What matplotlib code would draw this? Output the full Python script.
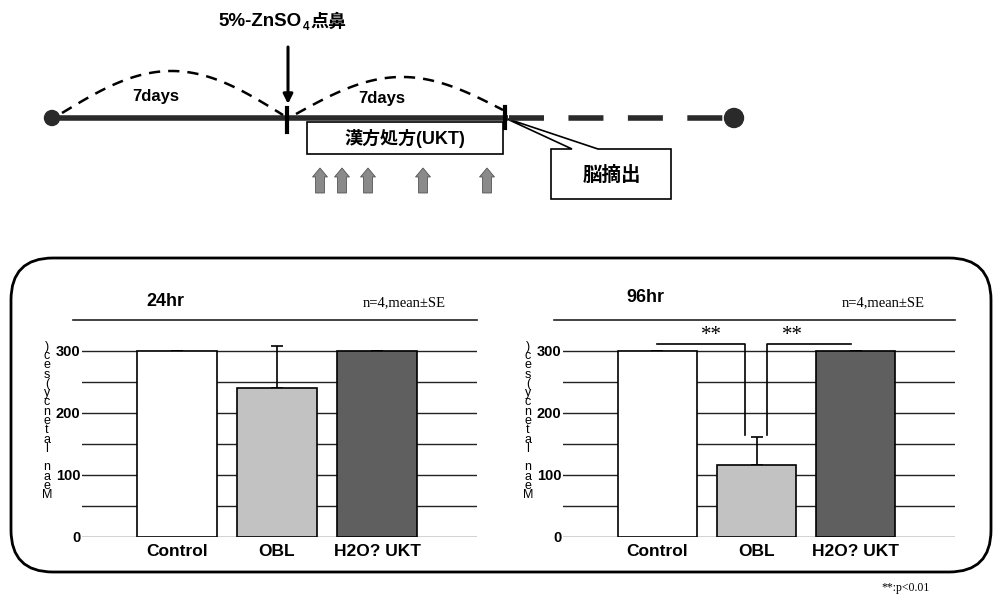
import numpy as np
import matplotlib.pyplot as plt
from matplotlib.patches import FancyBboxPatch, Circle, Rectangle, Polygon, FancyArrow

# データ
groups = ["Control", "OBL", "H2O? UKT"]
mean_24hr = [300, 240, 300]
se_24hr = [0, 68, 0]
mean_96hr = [300, 116, 300]
se_96hr = [0, 45, 0]
bar_colors = ["white", "#c2c2c2", "#5f5f5f"]
yticks = [0, 100, 200, 300]
ylabel = "Mean latency(sec)"

SANS = ["Liberation Sans", "Noto Sans CJK JP", "DejaVu Sans"]
SERIF = ["Liberation Serif", "DejaVu Serif"]

fig = plt.figure(figsize=(9.94, 5.98), dpi=100)

# 図全体の下地（ピクセル座標）
bg = fig.add_axes([0, 0, 1, 1])
bg.set_xlim(0, 994)
bg.set_ylim(598, 0)
bg.axis("off")

# --- 実験スケジュール図 ---
line_c = "#2a2a2a"
bg.plot([52, 508], [118, 118], color=line_c, lw=4, solid_capstyle="butt")
bg.plot([509, 728], [118, 118], color=line_c, lw=4, linestyle=(0, (6.3, 4.4)))
bg.add_patch(Circle((52, 118), 7.5, color=line_c))
bg.add_patch(Circle((734, 118), 9.5, color=line_c))
bg.plot([287, 287], [108, 132], color="black", lw=3)
bg.plot([505, 505], [107, 128], color="black", lw=3)

# 点鼻の矢印
bg.annotate("", xy=(288, 104), xytext=(288, 47),
            arrowprops=dict(arrowstyle="-|>", color="black", lw=2.2,
                            mutation_scale=14, shrinkA=0, shrinkB=0))
bg.text(302, 22, "5%-ZnSO", ha="right", va="center",
        fontsize=13.5, fontweight="bold", family=SANS)
bg.text(303, 27, "4", ha="left", va="center",
        fontsize=8.5, fontweight="bold", family=SANS)
bg.text(310, 22, "点鼻", ha="left", va="center",
        fontsize=13, fontweight="bold", family=SANS)

# 7日間の弧
def hump(x0, x1, y0, y1, h):
    t = np.linspace(0, 1, 100)
    return x0 + (x1 - x0) * t, y0 + (y1 - y0) * t - h * np.sin(np.pi * t)

xs, ys = hump(62, 283, 113, 115, 43)
bg.plot(xs, ys, color="black", lw=1.8, linestyle=(0, (4.5, 3.2)))
xs, ys = hump(296, 503, 114, 110, 35)
bg.plot(xs, ys, color="black", lw=1.8, linestyle=(0, (4.5, 3.2)))
bg.text(156, 97, "7days", ha="center", va="center", fontsize=12,
        fontweight="bold", family=SANS)
bg.text(382, 98, "7days", ha="center", va="center", fontsize=12,
        fontweight="bold", family=SANS)

# 漢方処方ボックス
bg.add_patch(Rectangle((307, 122), 196, 32, facecolor="white",
                       edgecolor="black", lw=1.2))
bg.text(405, 139, "漢方処方(UKT)", ha="center", va="center", fontsize=13,
        fontweight="bold", family=SANS)

# 投与の矢印
for xa in [320, 342, 368, 423, 487]:
    bg.add_patch(FancyArrow(xa, 193, 0, -25, width=9, head_width=15,
                            head_length=9, length_includes_head=True,
                            facecolor="#8a8a8a", edgecolor="#555555", lw=0.6))

# 脳摘出の吹き出し
bg.add_patch(Polygon([(551, 149), (572, 149), (505, 118), (598, 149),
                      (671, 149), (671, 199), (551, 199)], closed=True,
                     facecolor="white", edgecolor="black", lw=1.2))
bg.text(612, 175, "脳摘出", ha="center", va="center", fontsize=14,
        fontweight="bold", family=SANS)

# 下段の枠
bg.add_patch(FancyBboxPatch((11, 258), 980, 314,
                            boxstyle="round,pad=0,rounding_size=42",
                            facecolor="none", edgecolor="black", lw=2))
bg.text(906, 588, "**:p<0.01", ha="center", va="center", fontsize=8.5,
        family=SERIF)


def draw_panel(ax, title, means, ses, title_y, ylab_x):
    ax.set_facecolor("none")
    x = np.arange(len(groups))
    for yv in [50, 100, 150, 200, 250, 300]:
        ax.axhline(yv, color="#222222", lw=1, zorder=0)
    ax.axhline(0, color="#222222", lw=1, zorder=0)
    ax.axhline(350, xmin=-0.024, xmax=1, color="#222222", lw=1.2,
               zorder=0, clip_on=False)
    ax.bar(x, means, width=0.8, color=bar_colors, edgecolor="black",
           lw=1.2, zorder=2)
    ax.errorbar(x, means, yerr=[[0] * len(ses), ses], fmt="none",
                ecolor="black", elinewidth=1.2, capsize=4, capthick=1.2,
                zorder=1)
    ax.set_xlim(-0.95, 3.0)
    ax.set_ylim(0, 350)
    ax.set_yticks(yticks)
    ax.set_yticklabels([str(v) for v in yticks], fontweight="bold",
                       fontsize=10.5, family=SANS)
    ax.set_xticks(x)
    ax.set_xticklabels(groups, fontweight="bold", fontsize=12.5, family=SANS)
    ax.tick_params(length=0, axis="y", pad=1)
    ax.tick_params(length=0, axis="x", pad=5)
    for s in ax.spines.values():
        s.set_visible(False)
    ax.text(0.21, title_y, title, transform=ax.transAxes, ha="center",
            va="center", fontsize=13, fontweight="bold", family=SANS)
    ax.text(0.816, 1.078, "n=4,mean±SE", transform=ax.transAxes,
            ha="center", va="center", fontsize=10.5, family=SERIF)
    # 縦に積まれたラベル
    bg.text(ylab_x, 421, "\n".join(reversed(ylabel)), ha="center",
            va="center", fontsize=9, linespacing=0.7, family=SANS)


ax1 = fig.add_axes([82 / 994, 61 / 598, 395 / 994, 217 / 598])
draw_panel(ax1, "24hr", mean_24hr, se_24hr, 1.083, 47)

ax2 = fig.add_axes([563 / 994, 61 / 598, 392 / 994, 217 / 598])
draw_panel(ax2, "96hr", mean_96hr, se_96hr, 1.105, 528)

# 有意差の括弧
ax2.plot([0, 0.88, 0.88], [311, 311, 165], color="black", lw=1.2, zorder=3)
ax2.plot([1.11, 1.11, 1.95], [165, 311, 311], color="black", lw=1.2, zorder=3)
ax2.text(0.55, 325, "**", ha="center", va="center", fontsize=15, family=SERIF)
ax2.text(1.36, 325, "**", ha="center", va="center", fontsize=15, family=SERIF)

fig.savefig("out.png", dpi=100)
